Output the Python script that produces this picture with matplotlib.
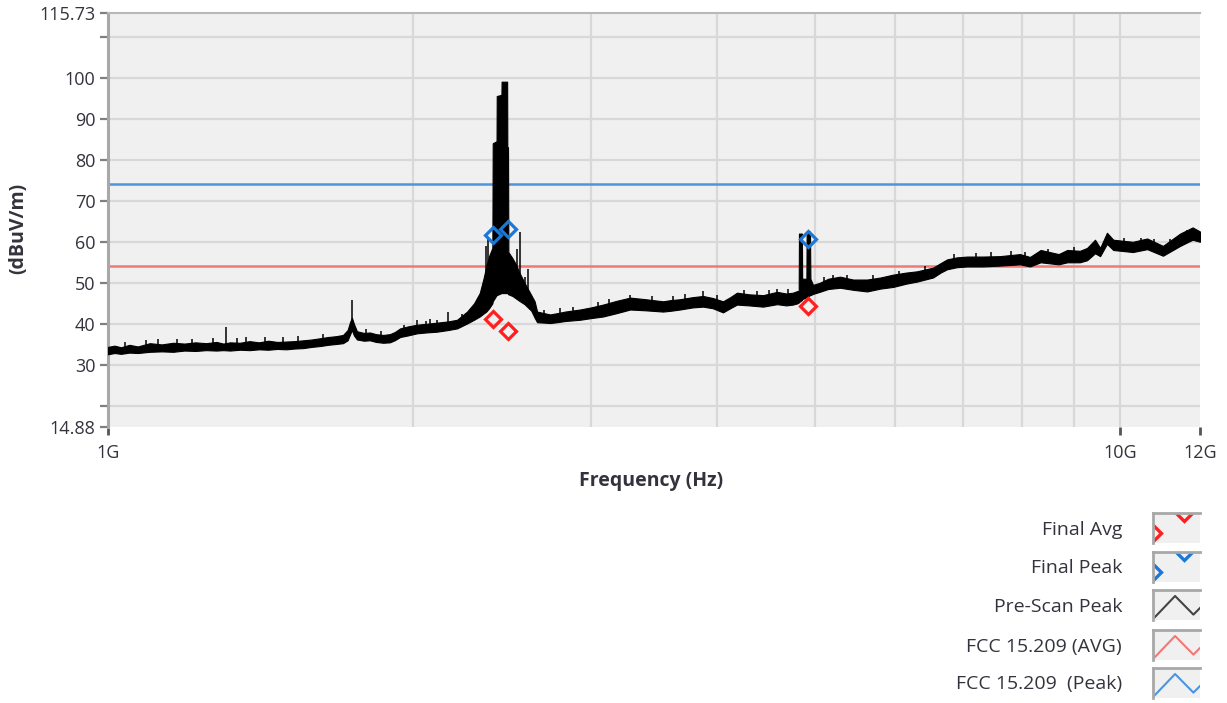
import matplotlib
matplotlib.use("Agg")
import matplotlib.pyplot as plt
from matplotlib.ticker import NullLocator

plt.rcParams['font.family'] = ['Open Sans', 'Noto Sans', 'DejaVu Sans']

# ---- data -------------------------------------------------------------
# Pre-scan peak trace, given as a lower / upper envelope of the noisy sweep (GHz, dBuV/m)
trace_ghz = [1.000, 1.015, 1.030, 1.050, 1.070, 1.100, 1.130, 1.160, 1.190, 1.220,
             1.250, 1.280, 1.300, 1.320, 1.350, 1.380, 1.410, 1.440, 1.470, 1.500,
             1.530, 1.560, 1.590, 1.620, 1.650, 1.680, 1.707, 1.725, 1.735, 1.742,
             1.750, 1.762, 1.790, 1.815, 1.840, 1.870, 1.899, 1.920, 1.944, 1.980,
             2.020, 2.060, 2.114, 2.168, 2.213, 2.264, 2.300, 2.330, 2.350, 2.365,
             2.380, 2.398, 2.400, 2.421, 2.422, 2.448, 2.449, 2.480, 2.481, 2.485,
             2.487, 2.510, 2.530, 2.550, 2.580, 2.600, 2.620, 2.640, 2.655, 2.700,
             2.734, 2.778, 2.830, 2.927, 3.000, 3.085, 3.180, 3.281, 3.400, 3.536,
             3.600, 3.675, 3.780, 3.873, 3.960, 4.053, 4.120, 4.184, 4.300, 4.440,
             4.584, 4.680, 4.752, 4.800, 4.815, 4.818, 4.850, 4.853, 4.900, 4.903,
             4.940, 4.945, 4.974, 5.050, 5.150, 5.290, 5.450, 5.625, 5.800, 5.969,
             6.150, 6.302, 6.537, 6.650, 6.748, 6.900, 7.064, 7.326, 7.611, 7.967,
             8.150, 8.350, 8.700, 8.870, 9.130, 9.280, 9.450, 9.560, 9.710, 9.850,
             10.30, 10.64, 11.03, 11.47, 11.80, 12.00]
trace_lo = [32.6, 32.9, 32.7, 33.0, 32.9, 33.2, 33.3, 33.2, 33.5, 33.4,
            33.6, 33.5, 33.6, 33.5, 33.7, 33.6, 33.8, 33.7, 33.9, 33.8,
            34.0, 34.1, 34.4, 34.6, 34.9, 35.1, 35.3, 36.0, 37.5, 38.5,
            37.2, 36.2, 35.9, 36.0, 35.6, 35.4, 35.5, 36.0, 36.8, 37.2,
            37.7, 37.9, 38.1, 38.5, 38.9, 40.1, 41.0, 41.8, 42.5, 43.0,
            43.8, 45.0, 45.5, 47.0, 47.0, 47.5, 47.5, 47.5, 47.5, 47.3,
            47.2, 46.8, 46.2, 45.6, 44.8, 44.0, 43.2, 41.5, 40.4, 40.3,
            40.2, 40.4, 40.7, 41.0, 41.4, 41.8, 42.6, 43.5, 43.3, 43.0,
            43.2, 43.5, 44.0, 44.2, 43.8, 42.8, 43.8, 44.7, 44.5, 44.2,
            44.8, 44.5, 44.7, 45.0, 45.2, 45.3, 45.8, 46.0, 46.5, 46.5,
            47.0, 47.0, 47.3, 47.8, 48.5, 48.8, 48.3, 47.9, 48.6, 49.0,
            49.8, 50.3, 51.3, 52.5, 53.3, 53.8, 54.0, 54.0, 54.2, 54.5,
            54.0, 55.0, 54.5, 55.0, 55.0, 55.5, 57.2, 56.5, 59.5, 58.0,
            57.5, 58.2, 56.6, 59.0, 60.5, 60.0]
trace_hi = [34.4, 34.7, 34.3, 34.9, 34.5, 35.3, 35.0, 35.4, 35.2, 35.5,
            35.3, 35.6, 35.2, 35.5, 35.4, 35.8, 35.5, 35.9, 35.6, 35.7,
            35.8, 36.0, 36.2, 36.5, 36.8, 37.0, 37.3, 38.5, 40.5, 41.5,
            40.0, 38.2, 37.8, 37.9, 37.5, 37.3, 37.5, 38.0, 38.9, 39.4,
            39.8, 40.0, 40.3, 40.6, 41.0, 43.0, 45.0, 47.5, 51.0, 54.0,
            56.5, 58.5, 84.0, 84.5, 95.5, 95.8, 99.0, 99.0, 83.0, 83.0,
            57.5, 56.0, 54.5, 52.5, 50.0, 48.5, 47.0, 45.5, 43.0, 42.6,
            42.3, 42.6, 43.0, 43.5, 44.0, 44.7, 45.6, 46.4, 46.0, 45.5,
            45.8, 46.0, 46.5, 46.8, 46.3, 45.5, 46.5, 47.6, 47.2, 47.0,
            47.8, 47.4, 47.6, 48.0, 48.0, 62.0, 62.0, 51.0, 51.0, 62.5,
            62.5, 51.0, 49.5, 50.0, 51.0, 51.5, 50.8, 50.8, 51.3, 52.0,
            52.5, 52.8, 53.7, 54.8, 55.7, 56.2, 56.4, 56.4, 56.5, 57.0,
            56.3, 58.0, 57.0, 58.0, 57.8, 58.5, 60.5, 58.5, 62.2, 60.5,
            60.0, 60.8, 59.0, 62.0, 63.5, 62.5]

# narrow spurs and noise hairs on top of the sweep (GHz, from, to)
spur_ghz = [1.309, 1.742, 2.020, 2.060, 2.114, 2.168, 2.362, 2.374, 2.536, 2.554,
            2.583, 2.601, 3.281, 3.873, 4.584,
            1.040, 1.090, 1.120, 1.170, 1.210, 1.270, 1.340, 1.370, 1.430, 1.490,
            1.540, 1.630, 1.800, 1.860, 1.960, 2.080, 2.240, 2.700, 2.800, 2.880,
            3.050, 3.130, 3.450, 3.620, 3.720, 4.000, 4.250, 4.380, 4.500, 4.700,
            5.100, 5.200, 5.370, 5.700, 6.050, 6.420, 6.850, 7.200, 7.450, 7.800,
            8.050, 8.500, 9.000, 10.10, 10.50, 10.80, 11.20, 11.65]
spur_lo = [34.5, 40.0, 38.5, 38.8, 39.5, 39.5, 44.0, 45.0, 50.0, 50.0,
           48.0, 46.0, 45.0, 45.5, 46.0,
           34.0, 34.5, 34.5, 34.8, 34.8, 35.0, 35.0, 35.2, 35.3, 35.3,
           35.5, 36.0, 37.0, 36.8, 38.3, 39.5, 40.5, 42.0, 42.0, 42.5,
           43.5, 44.0, 45.0, 45.0, 45.5, 45.5, 46.5, 46.3, 46.5, 46.8,
           49.5, 50.2, 50.3, 50.2, 51.5, 52.5, 55.3, 55.5, 55.8, 56.0,
           55.8, 56.5, 57.0, 59.0, 59.3, 59.0, 59.0, 61.0]
spur_hi = [39.3, 45.9, 41.0, 40.8, 41.0, 43.0, 59.0, 60.6, 58.2, 62.3,
           51.5, 53.3, 47.0, 47.9, 48.5,
           35.6, 36.0, 36.2, 36.4, 36.3, 36.6, 36.5, 36.8, 36.9, 36.8,
           37.0, 37.5, 38.7, 38.3, 39.8, 41.2, 42.3, 43.5, 43.8, 44.2,
           45.3, 46.0, 46.8, 46.9, 47.3, 47.0, 48.3, 48.0, 48.2, 48.5,
           51.3, 52.0, 52.0, 51.9, 53.0, 54.2, 57.0, 57.2, 57.4, 57.8,
           57.6, 58.2, 58.7, 60.8, 61.0, 60.7, 60.6, 62.8]

# final measurements
final_ghz = [2.400, 2.486, 4.915]
final_peak = [61.6, 63.2, 60.6]
final_avg = [41.2, 38.2, 44.4]

# FCC 15.209 limits
limit_avg = 54.0
limit_peak = 74.0

y_min, y_max = 14.88, 115.73
y_grid = [20, 30, 40, 50, 60, 70, 80, 90, 100, 110]
y_ticks = [14.88, 20, 30, 40, 50, 60, 70, 80, 90, 100, 110, 115.73]
y_labels = ['14.88', '', '30', '40', '50', '60', '70', '80', '90', '100', '', '115.73']
x_grid = [2, 3, 4, 5, 6, 7, 8, 9, 10]
x_ticks = [1, 10, 12]
x_labels = ['1G', '10G', '12G']

legend_labels = ['Final Avg', 'Final Peak', 'Pre-Scan Peak', 'FCC 15.209 (AVG)', 'FCC 15.209  (Peak)']

# ---- styling ----------------------------------------------------------
W, H = 1227, 703
BG = '#f0f0f0'
GRID = '#d8d8d8'
FRAME = '#a8a8a8'
TXT = '#33333d'
RED_MK = '#ff1f1f'
BLUE_MK = '#1c78d6'
RED_LN = '#f27777'
BLUE_LN = '#4b95e0'

fig = plt.figure(figsize=(W / 100, H / 100), dpi=100)
fig.patch.set_facecolor('white')

ax = fig.add_axes([108 / W, (H - 427) / H, 1092 / W, 414 / H])
ax.set_facecolor(BG)
ax.set_xscale('log')
ax.set_xlim(1, 12)
ax.set_ylim(y_min, y_max)

for yv in y_grid:
    ax.axhline(yv, color=GRID, lw=1.6, zorder=0)
for xv in x_grid:
    ax.axvline(xv, color=GRID, lw=1.6, zorder=0)

ax.axhline(limit_peak, color=BLUE_LN, lw=1.8, zorder=2)
ax.axhline(limit_avg, color=RED_LN, lw=1.8, zorder=2)

ax.fill_between(trace_ghz, trace_lo, trace_hi, color='black', lw=0.8, edgecolor='black', zorder=3)
ax.vlines(spur_ghz, spur_lo, spur_hi, color='black', lw=1.1, zorder=3)

ax.plot(final_ghz, final_avg, linestyle='none', marker='D', ms=8, mfc='none',
        mec=RED_MK, mew=2.3, zorder=5)
ax.plot(final_ghz, final_peak, linestyle='none', marker='D', ms=8, mfc='none',
        mec=BLUE_MK, mew=2.3, zorder=5)

ax.set_yticks(y_ticks)
ax.set_yticklabels(y_labels)
ax.set_xticks(x_ticks)
ax.set_xticklabels(x_labels)
ax.xaxis.set_minor_locator(NullLocator())
ax.tick_params(axis='y', length=6, width=1.6, color='#808080', pad=3,
               labelsize=13, labelcolor=TXT)
ax.tick_params(axis='x', length=6, width=2, color='#555555', pad=6,
               labelsize=13, labelcolor=TXT)

for side in ('right', 'bottom'):
    ax.spines[side].set_visible(False)
ax.spines['left'].set_color(FRAME)
ax.spines['left'].set_linewidth(2.2)
ax.spines['top'].set_color('#b8b8b8')
ax.spines['top'].set_linewidth(1.5)

fig.text(651 / W, 1 - 481 / H, 'Frequency (Hz)', ha='center', va='center',
         fontsize=14, fontweight='bold', color=TXT)
fig.text(18 / W, 1 - 228 / H, '(dBuV/m)', ha='center', va='center', rotation=90,
         fontsize=14, fontweight='bold', color=TXT)

# ---- legend -------------------------------------------------------------
row_top = [513, 552, 590, 630, 668]
text_y = [530, 568, 607, 647, 684]
for i, label in enumerate(legend_labels):
    fig.text(1122 / W, 1 - text_y[i] / H, label, ha='right', va='center',
             fontsize=14, color=TXT)
    lax = fig.add_axes([1153 / W, (H - row_top[i] - 30) / H, 47 / W, 30 / H])
    lax.set_facecolor(BG)
    lax.set_xlim(0, 1)
    lax.set_ylim(0, 1)
    lax.set_xticks([])
    lax.set_yticks([])
    for side in ('right', 'bottom'):
        lax.spines[side].set_visible(False)
    for side in ('top', 'left'):
        lax.spines[side].set_color(FRAME)
        lax.spines[side].set_linewidth(2)
    if i < 2:
        col = RED_MK if i == 0 else BLUE_MK
        lax.plot([0.0, 0.66], [0.33, 1.0], linestyle='none', marker='D', ms=8.5,
                 mfc='none', mec=col, mew=2.4)
    else:
        col = ['#444444', RED_LN, BLUE_LN][i - 2]
        lax.plot([0.03, 0.47, 0.86, 1.0], [0.08, 0.8, 0.18, 0.4], color=col, lw=1.5)

fig.savefig('out.png', dpi=100, facecolor='white')
